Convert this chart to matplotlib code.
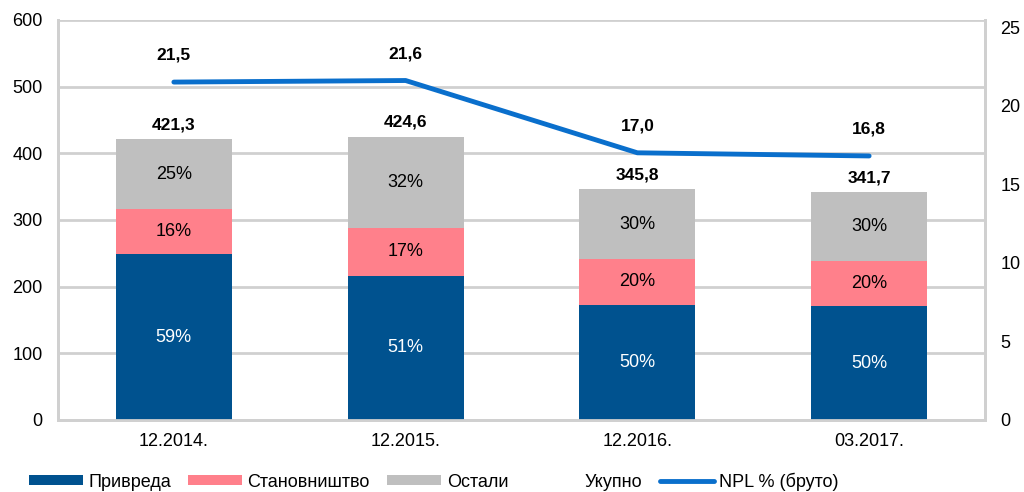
import matplotlib.pyplot as plt
import numpy as np

plt.rcParams['font.family'] = ['Liberation Sans', 'DejaVu Sans']

# podaci
periods = ['12.2014.', '12.2015.', '12.2016.', '03.2017.']
total = [421.3, 424.6, 345.8, 341.7]
share_privreda = [59, 51, 50, 50]
share_stanovnistvo = [16, 17, 20, 20]
share_ostali = [25, 32, 30, 30]
npl = [21.5, 21.6, 17.0, 16.8]

total_labels = ['421,3', '424,6', '345,8', '341,7']
npl_labels = ['21,5', '21,6', '17,0', '16,8']

c_priv = '#00528F'
c_stan = '#FF808B'
c_ost = '#BFBFBF'
c_line = '#0A6FCC'
c_grid = '#D0D0D0'

fig = plt.figure(figsize=(10.24, 4.92), dpi=100)
ax = fig.add_axes([58 / 1024, 1 - 420 / 492, (985 - 58) / 1024, 400 / 492])
ax2 = ax.twinx()

x = np.arange(len(periods))
tot = np.array(total)
h_priv = tot * np.array(share_privreda) / 100
h_stan = tot * np.array(share_stanovnistvo) / 100
h_ost = tot - h_priv - h_stan

w = 0.5
b1 = ax.bar(x, h_priv, w, color=c_priv, label='Привреда', zorder=3)
b2 = ax.bar(x, h_stan, w, bottom=h_priv, color=c_stan, label='Становништво', zorder=3)
b3 = ax.bar(x, h_ost, w, bottom=h_priv + h_stan, color=c_ost, label='Остали', zorder=3)
hidden, = ax.plot([], [], color='none', label='Укупно')

for i in range(len(periods)):
    ax.text(x[i], h_priv[i] / 2, f'{share_privreda[i]}%', ha='center', va='center',
            color='white', fontsize=13, zorder=4)
    ax.text(x[i], h_priv[i] + h_stan[i] / 2, f'{share_stanovnistvo[i]}%', ha='center',
            va='center', color='black', fontsize=13, zorder=4)
    ax.text(x[i], h_priv[i] + h_stan[i] + h_ost[i] / 2, f'{share_ostali[i]}%', ha='center',
            va='center', color='black', fontsize=13, zorder=4)
    ax.annotate(total_labels[i], (x[i], tot[i]), xytext=(0, 5), textcoords='offset points',
                ha='center', va='bottom', fontsize=12.5, fontweight='bold', zorder=4)

ln, = ax2.plot(x, npl, color=c_line, lw=3.5, label='NPL % (бруто)', solid_capstyle='round')
for i in range(len(periods)):
    ax2.annotate(npl_labels[i], (x[i], npl[i]), xytext=(0, 14), textcoords='offset points',
                 ha='center', va='bottom', fontsize=12.5, fontweight='bold')

ax.set_xlim(-0.5, 3.5)
ax.set_ylim(0, 600)
ax.set_yticks(range(0, 601, 100))
ax2.set_ylim(0, 25.45)
ax2.set_yticks(range(0, 26, 5))
ax.set_xticks(x)
ax.set_xticklabels(periods)

ax.yaxis.grid(True, color=c_grid, lw=2, zorder=0)
ax.set_axisbelow(True)
for a in (ax, ax2):
    a.tick_params(length=0, labelsize=13)
    a.spines['top'].set_visible(False)
    for s in ('left', 'right', 'bottom'):
        a.spines[s].set_color(c_grid)
        a.spines[s].set_linewidth(2)
ax.tick_params(axis='y', pad=11)
ax.tick_params(axis='x', pad=9)
ax2.tick_params(axis='y', pad=11)

fig.legend(handles=[b1, b2, b3, hidden, ln], loc='lower left', bbox_to_anchor=(0.012, -0.03),
           ncol=5, frameon=False, fontsize=13, handlelength=3.0, handleheight=0.5,
           handletextpad=0.3, columnspacing=0.95)

fig.savefig('out.png', dpi=100)
